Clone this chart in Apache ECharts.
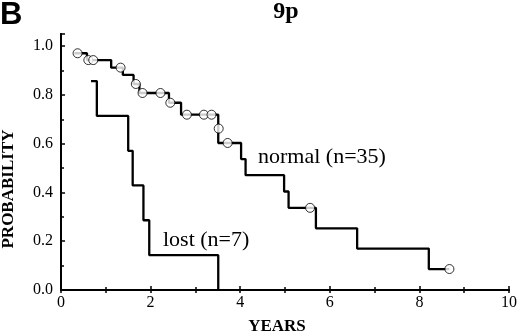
<!DOCTYPE html>
<html>
<head>
<meta charset="utf-8">
<script src="https://cdn.jsdelivr.net/npm/echarts@6/dist/echarts.min.js"></script>
<style>
  html, body { margin: 0; padding: 0; background: #fff; }
  #main { width: 520px; height: 335px; }
</style>
</head>
<body>
<div id="main"></div>
<script>
// normal (n=35): time of each step and survival after it
const normalTimes = [0.30, 0.58, 1.12, 1.38, 1.62, 1.75, 2.41, 2.68, 3.51, 4.02, 4.12, 4.98, 5.08, 5.69, 6.61, 8.21, 8.67];
const normalProb  = [0.971, 0.943, 0.912, 0.882, 0.845, 0.808, 0.768, 0.719, 0.603, 0.537, 0.471, 0.404, 0.337, 0.253, 0.170, 0.086, 0.086];
// censored patients (circles)
const normalCensTimes = [0.37, 0.61, 0.72, 1.33, 1.67, 1.82, 2.22, 2.44, 2.81, 3.19, 3.36, 3.52, 3.72, 5.56, 8.67];
const normalCensProb  = [0.971, 0.943, 0.943, 0.912, 0.845, 0.808, 0.808, 0.768, 0.719, 0.719, 0.719, 0.662, 0.603, 0.337, 0.086];
// lost (n=7)
const lostTimes = [0.67, 0.80, 1.50, 1.60, 1.84, 1.97, 3.51];
const lostProb  = [0.857, 0.714, 0.571, 0.429, 0.286, 0.143, 0];

const xTicks = [0, 2, 4, 6, 8, 10];
const yTicks = [0.0, 0.2, 0.4, 0.6, 0.8, 1.0];

const serif = '"Liberation Serif", "DejaVu Serif", serif';

function pairs(xs, ys) {
  return xs.map((x, i) => [x, ys[i]]);
}

const chart = echarts.init(document.getElementById('main'));

const option = {
  animation: false,
  backgroundColor: '#fff',
  grid: { left: 61, right: 9, top: 34, bottom: 45 },
  xAxis: [
    {
      type: 'value', min: xTicks[0], max: xTicks[xTicks.length - 1], interval: 2,
      axisLine: { lineStyle: { color: '#000', width: 2 } },
      axisTick: { inside: true, length: 4, lineStyle: { color: '#000', width: 1.5 } },
      minorTick: { show: true, splitNumber: 2, length: 3, lineStyle: { color: '#000', width: 1.5 } },
      splitLine: { show: false },
      axisLabel: { color: '#000', fontFamily: serif, fontSize: 16, margin: 5 }
    },
    {
      type: 'value', position: 'top', min: 0, max: 10, interval: 1,
      axisLine: { show: true, lineStyle: { color: '#000', width: 2 } },
      axisTick: { inside: true, length: 3, lineStyle: { color: '#000', width: 1.5 } },
      splitLine: { show: false },
      axisLabel: { show: false }
    }
  ],
  yAxis: [
    {
      type: 'value', min: 0, max: 1.05, interval: 0.2,
      axisLine: { show: true, lineStyle: { color: '#000', width: 2 } },
      axisTick: { inside: true, length: 4, lineStyle: { color: '#000', width: 1.5 } },
      minorTick: { show: true, splitNumber: 2, length: 3, lineStyle: { color: '#000', width: 1.5 } },
      splitLine: { show: false },
      axisLabel: {
        color: '#000', fontFamily: serif, fontSize: 16, margin: 8, showMaxLabel: false,
        formatter: v => (yTicks.some(t => Math.abs(t - v) < 1e-6) ? v.toFixed(1) : '')
      }
    },
    {
      type: 'value', position: 'right', min: 0, max: 1.05, interval: 0.1,
      axisLine: { show: true, lineStyle: { color: '#000', width: 2 } },
      axisTick: { inside: false, length: 3, lineStyle: { color: '#000', width: 1.5 } },
      splitLine: { show: false },
      axisLabel: { show: false }
    }
  ],
  series: [
    {
      name: 'normal', type: 'line', step: 'end',
      data: pairs(normalTimes, normalProb),
      showSymbol: false,
      lineStyle: { color: '#000', width: 2.3 },
      z: 2
    },
    {
      name: 'lost', type: 'line', step: 'end',
      data: pairs(lostTimes, lostProb),
      showSymbol: false,
      lineStyle: { color: '#000', width: 2.3 },
      z: 2
    },
    {
      name: 'censored', type: 'scatter',
      data: pairs(normalCensTimes, normalCensProb),
      symbol: 'circle', symbolSize: 9,
      itemStyle: { color: '#fff', borderColor: '#000', borderWidth: 1 },
      z: 3
    }
  ],
  graphic: [
    { type: 'text', left: 0, top: 0,
      style: { text: 'B', font: 'bold 31px "Liberation Sans", Arial, sans-serif', fill: '#000' } },
    { type: 'text', x: 286, y: 12,
      style: { text: '9p', font: 'bold 24px ' + serif, fill: '#000', align: 'center', verticalAlign: 'middle' } },
    { type: 'text', x: 9, y: 189, rotation: Math.PI / 2,
      style: { text: 'PROBABILITY', font: 'bold 17px ' + serif, fill: '#000', align: 'center', verticalAlign: 'middle' } },
    { type: 'text', x: 277, y: 327,
      style: { text: 'YEARS', font: 'bold 17px ' + serif, fill: '#000', align: 'center', verticalAlign: 'middle' } },
    { type: 'text', x: 258, y: 157,
      style: { text: 'normal (n=35)', font: '22px ' + serif, fill: '#000', align: 'left', verticalAlign: 'middle' } },
    { type: 'text', x: 163, y: 240,
      style: { text: 'lost (n=7)', font: '22px ' + serif, fill: '#000', align: 'left', verticalAlign: 'middle' } }
  ]
};

chart.setOption(option);
</script>
</body>
</html>
